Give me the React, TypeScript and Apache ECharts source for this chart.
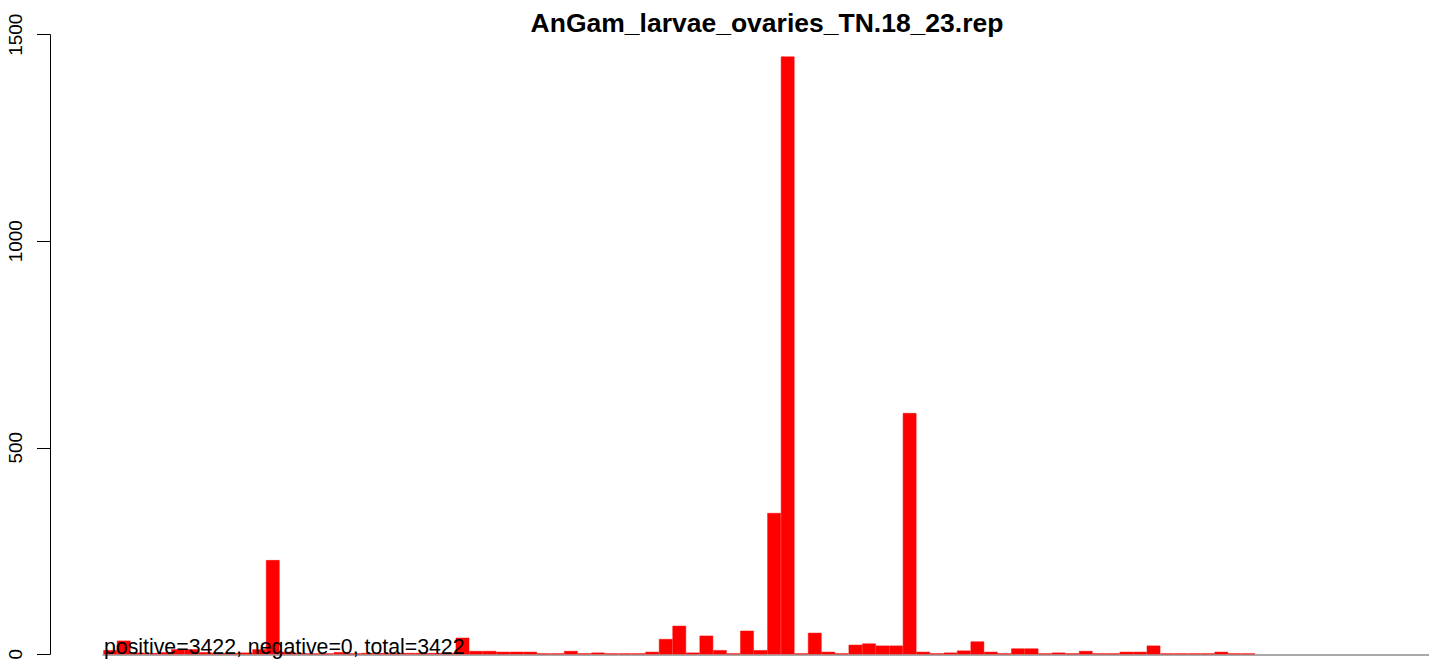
import React, { useEffect, useRef } from "react";
import * as echarts from "echarts";

const TITLE = "AnGam_larvae_ovaries_TN.18_23.rep";
const FOOTNOTE = "positive=3422, negative=0, total=3422";
const Y_TICKS = [0, 500, 1000, 1500];

// one value per bar (98 bars, the last ones are empty)
const VALUES: number[] = [
  10, 33, 4, 3, 5, 12, 12, 5, 3, 3,
  4, 12, 228, 6, 3, 2, 2, 5, 2, 3,
  3, 3, 3, 3, 3, 3, 40, 8, 8, 6,
  6, 6, 2, 2, 8, 2, 4, 2, 2, 2,
  6, 37, 69, 4, 45, 10, 2, 57, 10, 342,
  1447, 2, 52, 6, 2, 23, 26, 21, 21, 584,
  6, 2, 4, 9, 31, 6, 2, 14, 14, 2,
  4, 2, 8, 2, 2, 6, 6, 21, 2, 2,
  2, 2, 6, 2, 2, 0, 0, 0, 0, 0,
  0, 0, 0, 0, 0, 0, 0, 0,
];
const CATEGORIES = VALUES.map((_, i) => String(i + 1));

const FONT = "'Liberation Sans', Arial, Helvetica, sans-serif";

export default function App() {
  const ref = useRef<HTMLDivElement>(null);
  useEffect(() => {
    if (!ref.current) return;
    const chart = echarts.init(ref.current, undefined, { renderer: "svg" });
    const plotTop = 34.7;
    const plotBottom = 654.3;
    const barData = VALUES.map((v) =>
      v > 0
        ? { value: v, itemStyle: { borderColor: "#ff0000", borderWidth: 0.5 } }
        : { value: v, itemStyle: { borderWidth: 0 } }
    );
    chart.setOption({
      animation: false,
      backgroundColor: "#ffffff",
      textStyle: { fontFamily: FONT },
      grid: {
        left: 103.4,
        top: plotTop,
        width: 13.55 * VALUES.length,
        height: plotBottom - plotTop,
        containLabel: false,
        outerBoundsMode: "none",
      },
      xAxis: {
        type: "category",
        data: CATEGORIES,
        boundaryGap: true,
        axisLine: { show: true, lineStyle: { color: "#a9a9a9", width: 2 } },
        axisTick: { show: false },
        axisLabel: { show: false },
        splitLine: { show: false },
      },
      yAxis: {
        type: "value",
        min: Y_TICKS[0],
        max: Y_TICKS[Y_TICKS.length - 1],
        interval: 500,
        offset: 53.4,
        axisLine: { show: true, lineStyle: { color: "#000000", width: 1 } },
        axisTick: { show: true, length: 13, lineStyle: { color: "#000000", width: 1 } },
        axisLabel: {
          show: true,
          rotate: 90,
          margin: 25,
          color: "#000000",
          fontSize: 19,
          fontFamily: FONT,
          formatter: (v: number) => String(v),
        },
        splitLine: { show: false },
      },
      series: [
        {
          type: "bar",
          data: barData,
          barCategoryGap: 0,
          barGap: 0,
          itemStyle: { color: "#ff0000" },
        },
      ],
      graphic: [
        {
          type: "text",
          x: 767,
          y: 22.5,
          z: 100,
          style: {
            text: TITLE,
            fill: "#000000",
            font: `bold 26.5px ${FONT}`,
            textAlign: "center",
            textVerticalAlign: "middle",
          },
        },
        {
          type: "text",
          x: 104,
          y: 647,
          z: 100,
          style: {
            text: FOOTNOTE,
            fill: "#000000",
            font: `21.3px ${FONT}`,
            textAlign: "left",
            textVerticalAlign: "middle",
          },
        },
      ],
    });
    return () => chart.dispose();
  }, []);
  return (
    <div
      ref={ref}
      style={{ position: "fixed", left: 0, top: 0, width: 1429, height: 659 }}
    />
  );
}
